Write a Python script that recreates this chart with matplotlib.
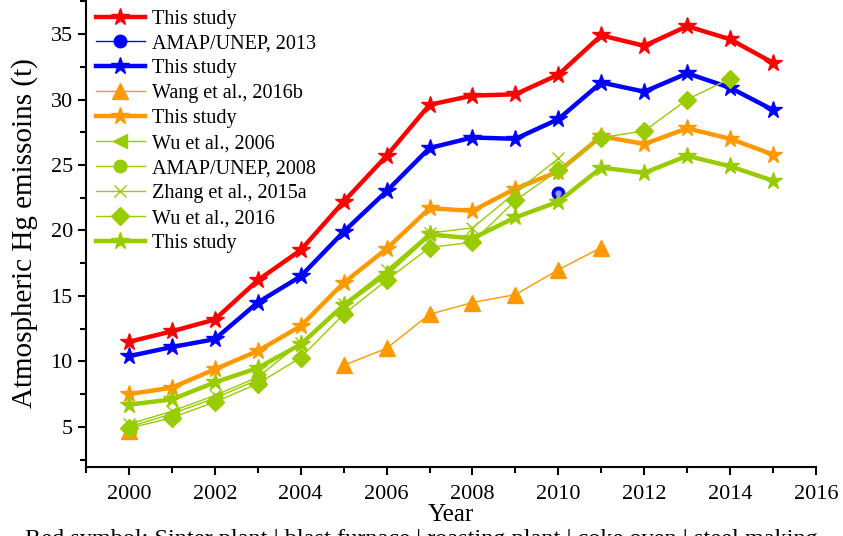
import matplotlib
matplotlib.use('Agg')
import matplotlib.pyplot as plt
import numpy as np

plt.rcParams['font.family'] = ['Liberation Serif', 'DejaVu Serif']

years = np.arange(2000, 2016)
nan = np.nan

# this study, four sector groups (t)
red_study = [11.5, 12.3, 13.2, 16.2, 18.5, 22.2, 25.7, 29.6, 30.3, 30.4, 31.9, 34.9, 34.1, 35.6, 34.6, 32.8]
blue_study = [10.4, 11.1, 11.7, 14.5, 16.5, 19.9, 23.0, 26.3, 27.1, 27.0, 28.5, 31.3, 30.6, 32.0, 30.9, 29.2]
orange_study = [7.5, 8.0, 9.4, 10.8, 12.7, 16.0, 18.6, 21.7, 21.5, 23.2, 24.5, 27.2, 26.6, 27.8, 27.0, 25.8]
green_study = [6.7, 7.1, 8.4, 9.5, 11.3, 14.3, 16.7, 19.7, 19.4, 21.0, 22.2, 24.8, 24.4, 25.7, 24.9, 23.8]

# literature estimates
amap2013_year, amap2013 = [2010], [22.85]
wang2016b = [4.7, nan, nan, nan, nan, 9.7, 11.0, 13.6, 14.5, 15.1, 17.0, 18.7, nan, nan, nan, nan]
wu2006 = [5.0, 6.0, 7.2, 8.6, nan, nan, nan, nan, nan, nan, nan, nan, nan, nan, nan, nan]
amap2008_year, amap2008 = [2003], [8.7]
zhang2015a = [5.2, 6.2, 7.4, 8.8, 11.4, 14.4, 17.0, 19.8, 20.2, 22.9, 25.5, nan, nan, nan, nan, nan]
wu2016 = [4.9, 5.7, 6.9, 8.3, 10.3, 13.6, 16.2, 18.7, 19.1, 22.3, 24.6, 27.1, 27.6, 30.0, 31.6, nan]

RED = '#ff0000'
BLUE = '#0000ff'
ORANGE = '#ff9900'
GREEN = '#99cc00'

fig = plt.figure(figsize=(8.43, 5.36), dpi=100)
ax = fig.add_axes([0.102, 0.129, 0.866, 0.871])

thick = dict(lw=3.2, marker='*', ms=13)
thin = dict(lw=1.0)

ax.plot(years, red_study, color=RED, label='This study', **thick)
ax.plot(amap2013_year, amap2013, color=BLUE, marker='o', ms=9, label='AMAP/UNEP, 2013', **thin)
ax.plot(years, blue_study, color=BLUE, label='This study', **thick)
ax.plot(years, wang2016b, color=ORANGE, marker='^', ms=11, label='Wang et al., 2016b', **thin)
ax.plot(years, orange_study, color=ORANGE, label='This study', **thick)
ax.plot(years, wu2006, color=GREEN, marker='<', ms=10, label='Wu et al., 2006', **thin)
ax.plot(amap2008_year, amap2008, color=GREEN, marker='o', ms=9, label='AMAP/UNEP, 2008', **thin)
ax.plot(years, zhang2015a, color=GREEN, marker='x', ms=9, mew=1.0, label='Zhang et al., 2015a', **thin)
ax.plot(years, wu2016, color=GREEN, marker='D', ms=9, label='Wu et al., 2016', **thin)
ax.plot(years, green_study, color=GREEN, label='This study', **thick)

# glossy highlight on the sphere marker
ax.plot(amap2013_year, amap2013, ls='none', marker='o', ms=3.5, color='#9999ff', zorder=5)

ax.set_xlim(1999, 2016)
ax.set_ylim(1.95, 37.6)
ax.set_xticks(np.arange(2000, 2017, 2))
ax.set_xticks(np.arange(1999, 2017, 1), minor=True)
ax.set_yticks(np.arange(5, 36, 5))
ax.set_yticks(np.arange(2.5, 37.6, 2.5), minor=True)
ax.spines['top'].set_visible(False)
ax.spines['right'].set_visible(False)
for s in ['left', 'bottom']:
    ax.spines[s].set_linewidth(1.5)
ax.tick_params(which='major', direction='out', length=6, width=1.5, labelsize=16)
ax.tick_params(which='minor', direction='out', length=4, width=1.5)
ax.tick_params(axis='x', pad=7)

ax.set_xlabel('Year', fontsize=18, labelpad=0)
ax.set_ylabel('Atmospheric Hg emissoins (t)', fontsize=21, labelpad=9)

ax.legend(loc='upper left', bbox_to_anchor=(0.003, 0.997), frameon=False, fontsize=14.5,
          handlelength=2.4, labelspacing=0.29, borderaxespad=0.0, handletextpad=0.35)

fig.text(0.03, -0.006, 'Red symbol: Sinter plant | blast furnace | roasting plant | coke oven | steel making',
         fontsize=17.5, ha='left', va='center')

fig.savefig('out.png', dpi=100)
